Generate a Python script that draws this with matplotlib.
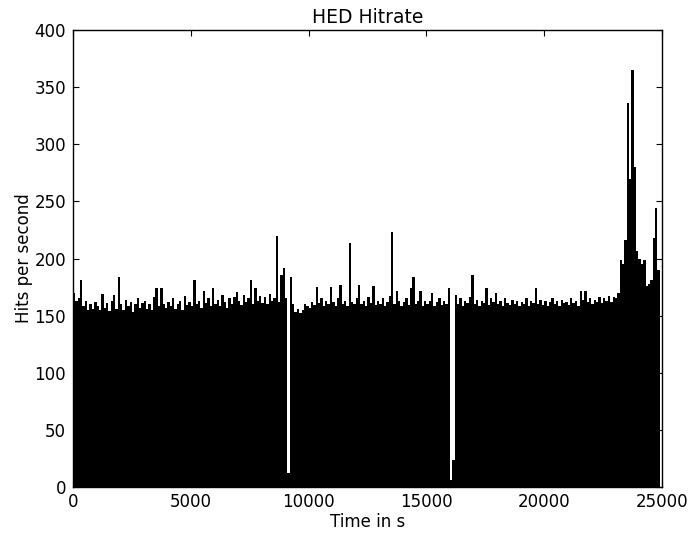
import numpy as np
import matplotlib
matplotlib.use("Agg")
import matplotlib.pyplot as plt

# Peak hit rate per 100 s interval, starting at t = 0 s
bin_width = 100
hits = [
    170, 163, 165, 181, 158, 163, 155, 160, 156, 162,
    158, 155, 169, 157, 161, 154, 163, 168, 156, 184,
    160, 155, 164, 158, 162, 153, 160, 165, 157, 161,
    163, 156, 160, 155, 166, 174, 158, 174, 160, 157,
    162, 158, 165, 156, 160, 163, 155, 167, 159, 162,
    158, 181, 160, 163, 157, 172, 161, 165, 158, 174,
    160, 164, 158, 168, 162, 157, 165, 160, 166, 171,
    163, 159, 168, 162, 165, 181, 160, 174, 163, 167,
    161, 166, 160, 169, 163, 165, 220, 162, 186, 192,
    165, 12, 184, 160, 153, 156, 152, 155, 160, 158,
    157, 162, 159, 175, 161, 165, 158, 163, 160, 175,
    162, 158, 165, 177, 160, 163, 158, 214, 162, 160,
    165, 177, 160, 163, 158, 166, 161, 176, 159, 163,
    160, 165, 158, 162, 167, 223, 160, 172, 163, 158,
    162, 165, 159, 174, 184, 160, 163, 172, 158, 163,
    160, 163, 170, 158, 162, 165, 159, 163, 160, 174,
    6, 24, 168, 160, 165, 158, 163, 161, 166, 186,
    160, 164, 158, 163, 161, 174, 159, 165, 162, 170,
    160, 163, 158, 165, 161, 159, 164, 160, 163, 158,
    162, 160, 165, 158, 163, 161, 174, 160, 164, 159,
    163, 158, 162, 165, 160, 163, 158, 164, 161, 162,
    159, 165, 161, 163, 158, 172, 164, 172, 162, 165,
    160, 164, 162, 166, 161, 165, 163, 167, 162, 166,
    165, 170, 199, 195, 216, 336, 270, 365, 280, 207,
    200, 195, 199, 176, 178, 181, 218, 244, 190,
]
x_ticks = [0, 5000, 10000, 15000, 20000, 25000]
y_ticks = [0, 50, 100, 150, 200, 250, 300, 350, 400]

t = np.arange(len(hits)) * bin_width

fig = plt.figure(figsize=(6.88, 5.36), dpi=100)
ax = fig.add_axes([0.1061, 0.0914, 0.8561, 0.8526])

ax.bar(t, hits, width=bin_width, align="edge", color="black", linewidth=0)

ax.set_xlim(0, 25000)
ax.set_ylim(0, 400)
ax.set_xticks(x_ticks)
ax.set_yticks(y_ticks)
ax.tick_params(direction="in", top=True, right=True, length=4, labelsize=12)
ax.tick_params(axis="x", pad=4)
ax.tick_params(axis="y", pad=5)
for s in ax.spines.values():
    s.set_linewidth(1.0)

ax.set_title("HED Hitrate", fontsize=13.5, pad=5)
ax.set_xlabel("Time in s", fontsize=12, labelpad=2)
ax.set_ylabel("Hits per second", fontsize=12, labelpad=1)

fig.savefig("out.png", dpi=100, facecolor="white")
